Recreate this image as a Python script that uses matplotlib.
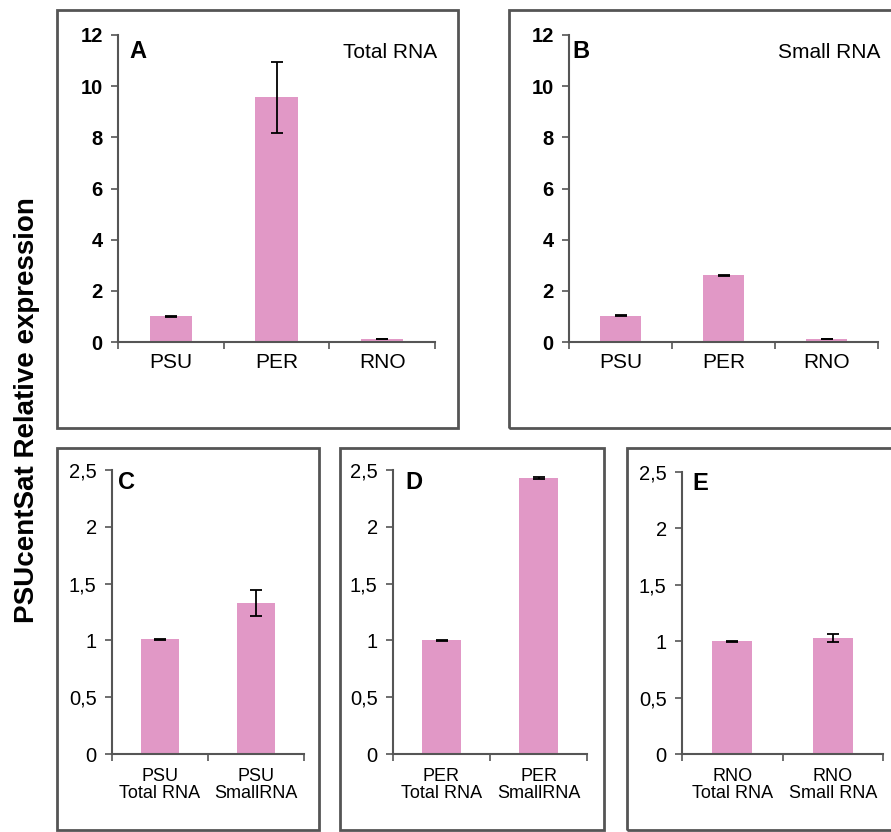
import matplotlib
matplotlib.use("Agg")
import matplotlib.pyplot as plt
from matplotlib.patches import Rectangle
from matplotlib.ticker import FixedLocator, FuncFormatter

plt.rcParams['font.family'] = ['Liberation Sans', 'DejaVu Sans']

# ---- data ----
cats_top = ["PSU", "PER", "RNO"]
total_rna = [1.00, 9.56, 0.12]
total_rna_err = [0.02, 1.38, 0.01]
small_rna = [1.02, 2.60, 0.12]
small_rna_err = [0.02, 0.03, 0.01]

cats_c = ["PSU\nTotal RNA", "PSU\nSmallRNA"]
vals_c = [1.01, 1.33]
err_c = [0.005, 0.115]
cats_d = ["PER\nTotal RNA", "PER\nSmallRNA"]
vals_d = [1.00, 2.43]
err_d = [0.005, 0.008]
cats_e = ["RNO\nTotal RNA", "RNO\nSmall RNA"]
vals_e = [1.00, 1.03]
err_e = [0.005, 0.035]

W, H = 891, 832
BAR = "#E198C6"
GRAY = "#555555"

fig = plt.figure(figsize=(W / 100, H / 100), dpi=100)


def fx(px):
    return px / W


def fy(py):
    return 1 - py / H


def frame(x0, y0, x1, y1):
    fig.patches.append(Rectangle((fx(x0), fy(y1)), fx(x1) - fx(x0), fy(y0) - fy(y1),
                                 transform=fig.transFigure, fill=False,
                                 edgecolor=GRAY, linewidth=2, clip_on=False))


def panel(left, right, top, bottom, cats, vals, errs, ymax, yticks, ytick_fmt,
          tick_bold, tick_size, cat_size, cat_pad, letter, lpos, note=None, npos=None):
    ax = fig.add_axes([fx(left), fy(bottom), fx(right) - fx(left), fy(top) - fy(bottom)])
    n = len(cats)
    x = list(range(n))
    ax.bar(x, vals, width=0.4, color=BAR, zorder=2)
    ax.errorbar(x, vals, yerr=errs, fmt="none", ecolor="black", elinewidth=1.3,
                capsize=4, capthick=1.3, zorder=3)
    ax.set_xlim(-0.5, n - 0.5)
    ax.set_ylim(0, ymax)
    ax.set_yticks(yticks)
    ax.yaxis.set_major_formatter(FuncFormatter(ytick_fmt))
    ax.set_xticks(x)
    ax.set_xticklabels(cats, fontsize=cat_size, linespacing=1.0)
    ax.xaxis.set_minor_locator(FixedLocator([i - 0.5 for i in range(n + 1)]))
    ax.tick_params(axis="x", which="major", length=0, pad=cat_pad)
    ax.tick_params(axis="x", which="minor", length=5, width=1.2, color=GRAY, direction="out")
    ax.tick_params(axis="y", length=5, width=1.2, color=GRAY, direction="out", pad=6,
                   labelsize=tick_size)
    for lab in ax.get_yticklabels():
        lab.set_fontweight("bold" if tick_bold else "normal")
    for s in ["top", "right"]:
        ax.spines[s].set_visible(False)
    for s in ["left", "bottom"]:
        ax.spines[s].set_color(GRAY)
        ax.spines[s].set_linewidth(1.5)
    ax.set_facecolor("none")
    fig.text(fx(lpos[0]), fy(lpos[1]), letter, fontsize=17, fontweight="bold",
             ha="left", va="center")
    if note:
        fig.text(fx(npos[0]), fy(npos[1]), note, fontsize=15, ha="right", va="center")
    return ax


# frames
frame(57, 10, 458, 428)
frame(509, 10, 896, 428)
frame(57, 448, 319, 830)
frame(340, 448, 604, 830)
frame(627, 448, 896, 830)

int_fmt = lambda v, p: f"{int(v)}"
comma_fmt = lambda v, p: (f"{v:g}").replace(".", ",")

panel(118, 435, 35, 342, cats_top, total_rna, total_rna_err, 12, range(0, 13, 2),
      int_fmt, True, 14.5, 15, 8, "A", (129, 51), "Total RNA", (437, 52))
panel(569, 878, 35, 342, cats_top, small_rna, small_rna_err, 12, range(0, 13, 2),
      int_fmt, True, 14.5, 15, 8, "B", (572, 51), "Small RNA", (880, 52))
panel(112, 304, 470, 754, cats_c, vals_c, err_c, 2.5, [0, 0.5, 1, 1.5, 2, 2.5],
      comma_fmt, False, 14.5, 13, 10, "C", (118, 482))
panel(393, 587, 470, 754, cats_d, vals_d, err_d, 2.5, [0, 0.5, 1, 1.5, 2, 2.5],
      comma_fmt, False, 14.5, 13, 10, "D", (405, 482))
panel(682, 883, 472, 754, cats_e, vals_e, err_e, 2.5, [0, 0.5, 1, 1.5, 2, 2.5],
      comma_fmt, False, 14.5, 13, 10, "E", (692, 483))

fig.text(fx(27), fy(410), "PSUcentSat Relative expression", rotation=90,
         fontsize=20, fontweight="bold", ha="center", va="center")

fig.savefig("out.png", dpi=100)
